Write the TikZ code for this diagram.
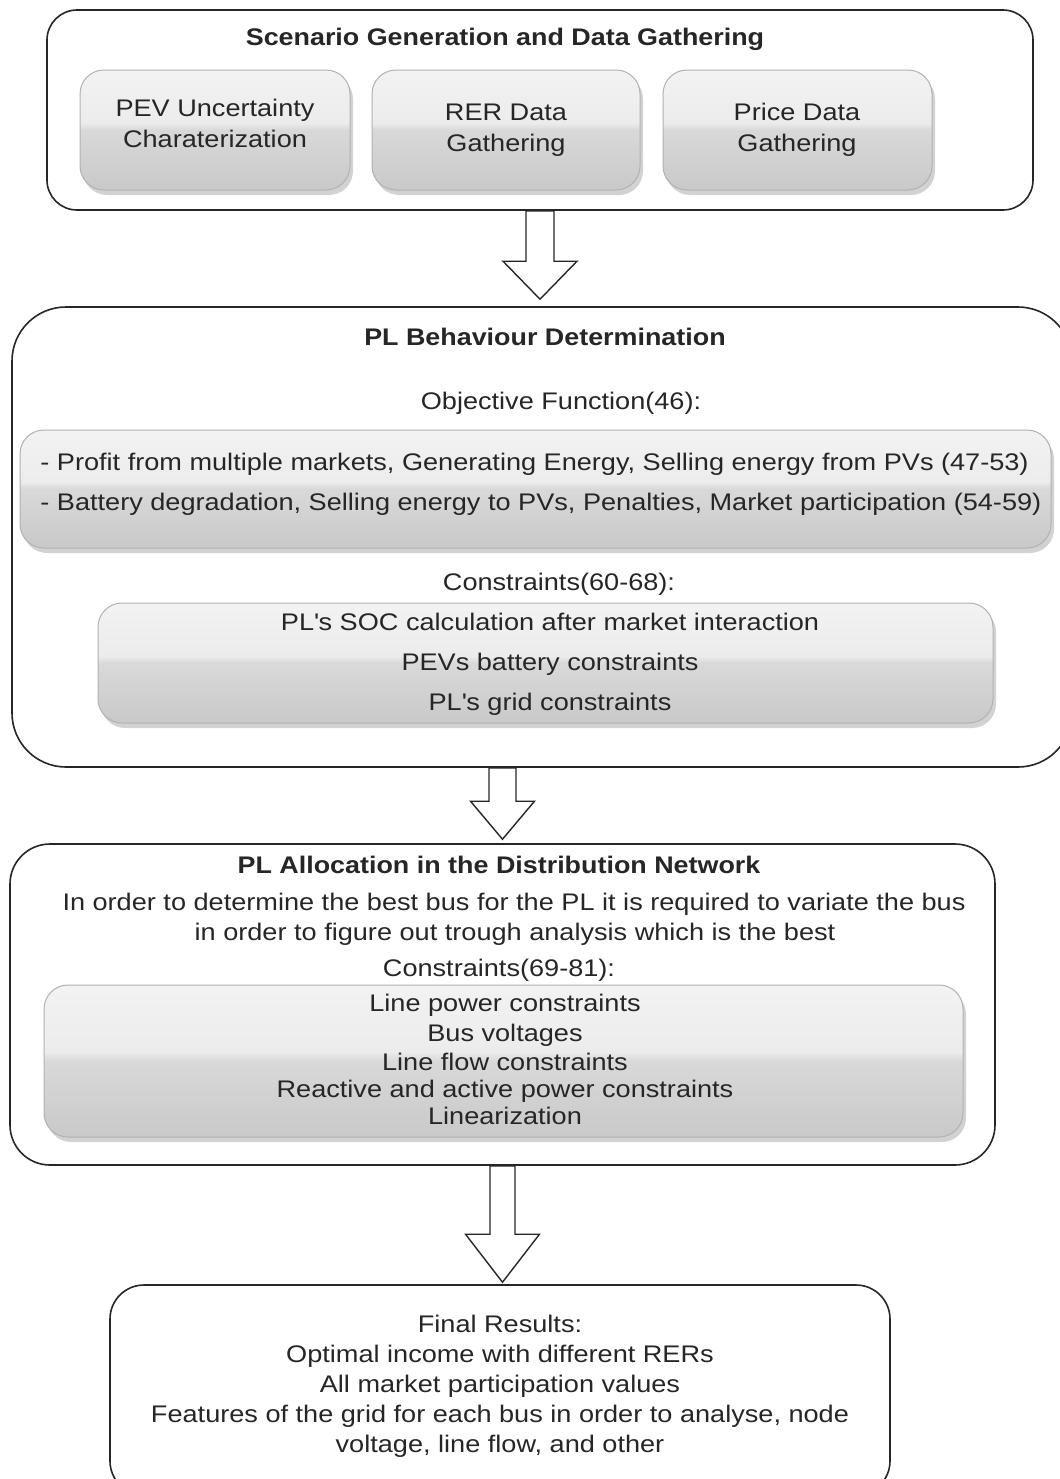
\documentclass[tikz,border=0pt]{standalone}
\usepackage{fontspec}
\setmainfont{Liberation Sans}[FakeStretch=1.13, BoldFeatures={FakeStretch=1.12}]
\usetikzlibrary{shadows,calc}
\pgfdeclareverticalshading{gloss}{100bp}{color(0bp)=(gray!55); color(50bp)=(gray!30); color(53bp)=(gray!15); color(100bp)=(gray!4)}
\newcommand\blockarr[6]{%
  \draw[barrow] let \p1=(#1), \p2=(#2), \p3=(#3) in
  (\x3-#4,\y1) -- (\x3-#4,\y2+#6) -- (\x3-#5,\y2+#6) -- (\x3,\y2) --
  (\x3+#5,\y2+#6) -- (\x3+#4,\y2+#6) -- (\x3+#4,\y1) -- cycle;}
\begin{document}
\begin{tikzpicture}[x=0.5pt,y=-0.5pt,
  font=\fontsize{12}{14}\selectfont,
  outer/.style={draw=black!85, line width=0.8pt, fill=white, rectangle, inner sep=0pt},
  glossy/.style={draw=gray!60, line width=0.5pt, shading=gloss, rectangle, inner sep=0pt,
    drop shadow={shadow xshift=1.5pt, shadow yshift=-2.5pt, opacity=0.35}},
  txt/.style={inner sep=0pt, text height=8.6pt, text depth=0pt, text=black!85},
  ttl/.style={txt, font=\fontsize{12}{14}\selectfont\bfseries},
  barrow/.style={draw=black!85, line width=0.7pt, fill=white}]
\useasboundingbox (0,0) rectangle (1060,1479);
\clip (0,0) rectangle (1060,1479);

% ---------- Box 1
\node[outer, rounded corners=15pt, minimum width=493pt, minimum height=100pt] (b1) at (540,110) {};
\node[glossy, rounded corners=12pt, minimum width=135pt, minimum height=60pt] (pev) at (215,130) {};
\node[glossy, rounded corners=12pt, minimum width=134pt, minimum height=60pt] (rer) at (506,130) {};
\node[glossy, rounded corners=12pt, minimum width=134.5pt, minimum height=60pt] (price) at (797.5,130) {};
\node[ttl] (t1) at (505,37) {Scenario Generation and Data Gathering};
\node[txt] (pev1) at (215,108) {PEV Uncertainty};
\node[txt] (pev2) at (215,139) {Charaterization};
\node[txt] (rer1) at (506,112) {RER Data};
\node[txt] (rer2) at (506,143) {Gathering};
\node[txt] (pr1) at (797,112) {Price Data};
\node[txt] (pr2) at (797,143) {Gathering};

% ---------- Box 2
\node[outer, rounded corners=27pt, minimum width=530pt, minimum height=230pt] (b2) at (542,537) {};
\node[ttl] (t2) at (545,337) {PL Behaviour Determination};
\node[txt] (obj) at (561,401) {Objective Function(46):};
\node[glossy, rounded corners=12pt, minimum width=515.5pt, minimum height=59pt] (ga) at (535.5,489) {};
\node[txt, anchor=west] (ga1) at (40,462) {- Profit from multiple markets, Generating Energy, Selling energy from PVs (47-53)};
\node[txt, anchor=west] (ga2) at (40,502) {- Battery degradation, Selling energy to PVs, Penalties, Market participation (54-59)};
\node[txt] (con1) at (559,582) {Constraints(60-68):};
\node[glossy, rounded corners=12pt, minimum width=447.5pt, minimum height=60pt] (gb) at (545.5,663) {};
\node[txt] (gb1) at (550,622) {PL\textquotesingle s SOC calculation after market interaction};
\node[txt] (gb2) at (550,662) {PEVs battery constraints};
\node[txt] (gb3) at (550,702) {PL\textquotesingle s grid constraints};

% ---------- Box 3
\node[outer, rounded corners=20pt, minimum width=492.5pt, minimum height=160.5pt] (b3) at (502.5,1004.5) {};
\node[ttl] (t3) at (499,865) {PL Allocation in the Distribution Network};
\node[txt] (l1) at (514,902) {In order to determine the best bus for the PL it is required to variate the bus};
\node[txt] (l2) at (515,932) {in order to figure out trough analysis which is the best};
\node[txt] (con2) at (499,968) {Constraints(69-81):};
\node[glossy, rounded corners=12pt, minimum width=459.5pt, minimum height=76pt] (gc) at (503.5,1061) {};
\node[txt] (gc1) at (505,1003) {Line power constraints};
\node[txt] (gc2) at (505,1033) {Bus voltages};
\node[txt] (gc3) at (505,1062) {Line flow constraints};
\node[txt] (gc4) at (505,1089) {Reactive and active power constraints};
\node[txt] (gc5) at (505,1116) {Linearization};

% ---------- Box 4
\node[outer, rounded corners=17pt, minimum width=390pt, minimum height=105pt] (b4) at (500,1390) {};
\node[txt] (f1) at (500,1324) {Final Results:};
\node[txt] (f2) at (500,1354) {Optimal income with different RERs};
\node[txt] (f3) at (500,1384) {All market participation values};
\node[txt] (f4) at (500,1414) {Features of the grid for each bus in order to analyse, node};
\node[txt] (f5) at (500,1444) {voltage, line flow, and other};

% ---------- Arrows
\coordinate (tip1) at ($(b2.north)+(0,-7)$);
\coordinate (tip2) at ($(b3.north)+(0,-4)$);
\coordinate (tip3) at ($(b4.north)+(0,-2)$);
\blockarr{b1.south}{tip1}{b1.south}{7pt}{18.5pt}{19pt}
\blockarr{b2.south}{tip2}{b3.north}{6.75pt}{16pt}{19pt}
\blockarr{b3.south}{tip3}{b3.south}{6.25pt}{18.5pt}{24pt}
\end{tikzpicture}
\end{document}
